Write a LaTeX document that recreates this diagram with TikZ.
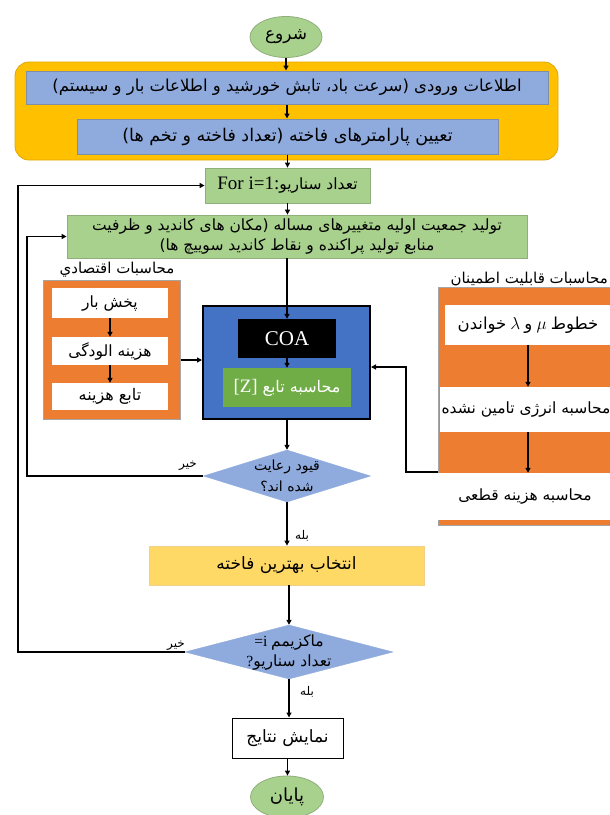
\documentclass[tikz,border=0pt]{standalone}
\usepackage{fontspec}
\setmainfont{Liberation Serif}
\newfontfamily\persianfont[Script=Arabic]{DejaVu Sans}
\TeXXeTstate=1
\usetikzlibrary{shapes.geometric,arrows.meta}
\newcommand\PR[1]{{\persianfont\beginR #1\endR}}
\newcommand\fsz[1]{\fontsize{#1}{#1}\selectfont}
\definecolor{gold}{HTML}{FFC000}
\definecolor{golddark}{HTML}{E0A800}
\definecolor{lblue}{HTML}{8FAADC}
\definecolor{bgray}{HTML}{7F8FA6}
\definecolor{lgreen}{HTML}{A9D18E}
\definecolor{ggray}{HTML}{8FAF7A}
\definecolor{dgreen}{HTML}{70AD47}
\definecolor{orng}{HTML}{ED7D31}
\definecolor{ogray}{HTML}{A5A5A5}
\definecolor{mblue}{HTML}{4472C4}
\definecolor{lyellow}{HTML}{FFD966}
\definecolor{yborder}{HTML}{F2D08A}
\tikzset{
  arr/.style={-{Triangle[length=5pt,width=5pt]}, line width=1.3pt},
  loopline/.style={-{Triangle[length=5pt,width=5pt]}, line width=1.6pt},
  terminal/.style={ellipse, fill=lgreen, draw=ggray, line width=0.8pt, inner sep=0pt},
  bluebox/.style={rectangle, fill=lblue, draw=bgray, line width=1pt, inner sep=0pt},
  greenbox/.style={rectangle, fill=lgreen, draw=ggray, line width=0.8pt, inner sep=0pt},
  whitebox/.style={rectangle, fill=white, inner sep=0pt},
  orangebox/.style={rectangle, fill=orng, draw=ogray, line width=1pt, inner sep=0pt},
  decision/.style={diamond, fill=lblue, draw=lblue, inner sep=0pt},
  lbl/.style={inner sep=1pt},
}
\begin{document}
\begin{tikzpicture}[x=1pt,y=-1pt]
\useasboundingbox (0,0) rectangle (610,815);
\clip (0,0) rectangle (610,815);
\fill[white] (0,0) rectangle (610,815);

% start
\node[terminal, minimum width=72, minimum height=41] (start) at (286,37) {\fsz{17}\PR{شروع}};

% input group
\node[rectangle, rounded corners=14pt, fill=gold, draw=golddark, line width=0.8pt, minimum width=543, minimum height=98] (inbox) at (286.5,111) {};
\node[bluebox, minimum width=522, minimum height=33] (box1) at (287,87.5) {\fsz{16.5}\PR{اطلاعات ورودی (سرعت باد، تابش خورشید و اطلاعات بار و سیستم)}};
\node[bluebox, minimum width=421, minimum height=35] (box2) at (287.5,136.5) {\fsz{17.5}\PR{تعیین پارامترهای فاخته (تعداد فاخته و تخم ها)}};

% loop start
\node[greenbox, minimum width=165, minimum height=35] (forbox) at (287.5,185.5) {\fsz{19}For i=1:\fsz{15.5}\PR{تعداد سناریو}};
\node[greenbox, minimum width=460, minimum height=43, align=center, font=\fontsize{15.5}{20}\selectfont] (gen) at (297,236.5) {\PR{تولید جمعیت اولیه متغییرهای مساله  (مکان های کاندید و ظرفیت}\\\PR{منابع تولید پراکنده و نقاط کاندید سوییچ ها)}};

% economic block
\node[lbl] (econlbl) at (117,270) {\fsz{15}\PR{محاسبات اقتصادي}};
\node[orangebox, minimum width=137, minimum height=139] (econ) at (111.5,349.5) {};
\node[whitebox, minimum width=116, minimum height=30] (e1) at (110,303) {\fsz{15.5}\PR{پخش بار}};
\node[whitebox, minimum width=116, minimum height=28] (e2) at (110,351) {\fsz{15.5}\PR{هزینه الودگی}};
\node[whitebox, minimum width=116, minimum height=27] (e3) at (110,396.5) {\fsz{16}\PR{تابع هزینه}};
\draw[arr] (e1.south) -- (e2.north);
\draw[arr] (e2.south) -- (e3.north);

% COA block
\node[rectangle, fill=mblue, draw=black, line width=2pt, minimum width=167, minimum height=113] (blue) at (286.5,362.5) {};
\node[rectangle, fill=black, minimum width=98, minimum height=39, text=white] (coa) at (287,338.5) {\fsz{21}COA};
\node[rectangle, fill=dgreen, minimum width=128, minimum height=39, text=white] (zf) at (287,387.5) {\fsz{19}[Z] \fsz{16}\PR{محاسبه تابع}};
\draw[arr] (coa.south) -- (zf.north);

% reliability block
\node[lbl, anchor=east] (rellbl) at (609,279) {\fsz{15}\PR{محاسبات قابلیت اطمینان}};
\node[orangebox, minimum width=178, minimum height=238] (rel) at (527,406) {};
\node[whitebox, minimum width=166, minimum height=40] (r1) at (528,325) {\fsz{16.5}\PR{خواندن} $\lambda$ \PR{و} $\mu$ \PR{خطوط}};
\node[whitebox, minimum width=172, minimum height=45] (r2) at (526,409.5) {\fsz{15.5}\PR{محاسبه انرژی تامین نشده}};
\node[whitebox, minimum width=174, minimum height=47] (r3) at (525,496.5) {\fsz{15.5}\PR{محاسبه هزینه قطعی}};
\draw[arr] (r1.south) -- (r1.south |- r2.north);
\draw[arr] (r1.south |- r2.south) -- (r1.south |- r3.north);

% decisions and rest
\node[decision, minimum width=167, minimum height=52] (d1) at (287,476) {};
\node[lbl, align=center, font=\fontsize{14}{21}\selectfont] (d1t) at (d1.center) {\PR{قیود رعایت}\\\PR{شده اند؟}};
\node[rectangle, fill=lyellow, draw=yborder, line width=0.8pt, minimum width=275, minimum height=39] (best) at (286.5,565.5) {\fsz{17}\PR{انتخاب بهترین فاخته}};
\node[decision, minimum width=208, minimum height=54] (d2) at (289,652) {};
\node[lbl, align=center, font=\fontsize{15.5}{20}\selectfont] (d2t) at (d2.center) {=i \PR{ماکزیمم}\\?\PR{تعداد سناریو}};
\node[rectangle, fill=white, draw=black, line width=1pt, minimum width=111, minimum height=40] (res) at (287.5,738) {\fsz{17}\PR{نمایش نتایج}};
\node[terminal, minimum width=73, minimum height=42] (stop) at (287,797) {\fsz{18}\PR{پایان}};

% main flow
\draw[arr] (start.south) -- (start.south |- box1.north);
\draw[arr] (box1.south) -- (box1.south |- box2.north);
\draw[arr] (box2.south) -- (box2.south |- forbox.north);
\draw[arr] (forbox.south) -- (forbox.south |- gen.north);
\draw[arr] (gen.south -| coa.north) -- (coa.north);
\draw[arr] (blue.south -| d1.north) -- (d1.north);
\draw[arr] (d1.south) -- (d1.south |- best.north);
\node[lbl, anchor=west] (yes1) at (294,536) {\fsz{12}\PR{بله}};
\draw[arr] (best.south -| d2.north) -- (d2.north);
\draw[arr] (d2.south) -- (d2.south |- res.north);
\node[lbl, anchor=west] (yes2) at (299,692) {\fsz{12}\PR{بله}};
\draw[arr] (res.south) -- (res.south |- stop.north);

% side connections
\coordinate (ea) at ([yshift=-10.5pt]econ.east);
\draw[arr] (ea) -- (ea -| blue.west);
\coordinate (rj) at (406,472);
\draw[loopline] (rel.west |- rj) -- (rj) |- ([yshift=-4.5pt]blue.east);

% loops
\coordinate (li) at (27,476);
\draw[loopline] (d1.west) -- (d1.west -| li) |- (gen.west);
\node[lbl, anchor=south east] (no1) at (198,472) {\fsz{12}\PR{خیر}};
\coordinate (lo) at (18,652);
\draw[loopline] (d2.west) -- (d2.west -| lo) |- (forbox.west);
\node[lbl, anchor=south east] (no2) at (186,652) {\fsz{12}\PR{خیر}};
\end{tikzpicture}
\end{document}
